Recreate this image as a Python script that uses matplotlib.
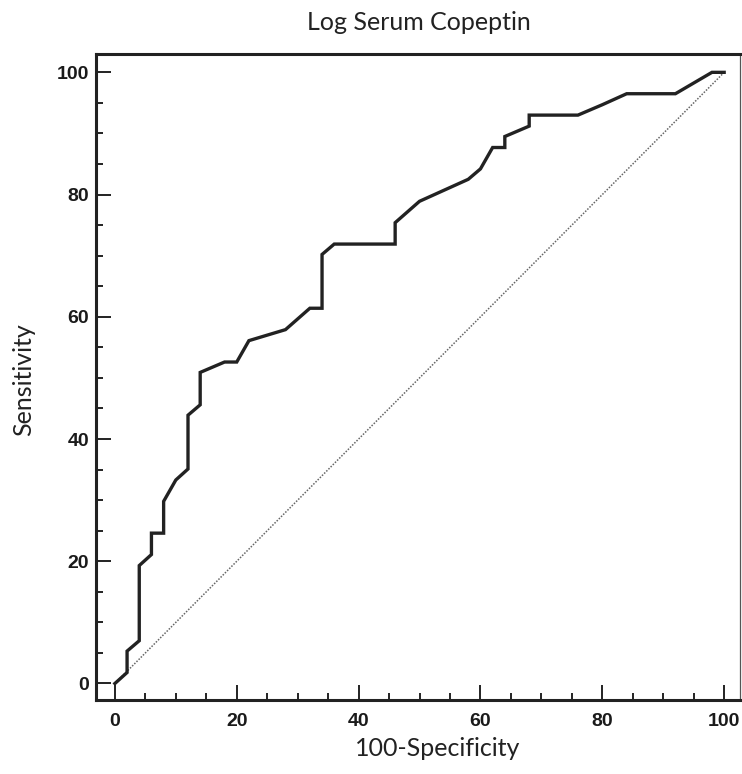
import matplotlib
matplotlib.use("Agg")
from matplotlib import pyplot as plt
from matplotlib.ticker import MultipleLocator

# ROC curve points (100-Specificity, Sensitivity)
fpr = [0, 2, 2, 4, 4, 6, 6, 8, 8, 10, 12, 12, 14, 14, 18, 20, 22, 28, 32, 34,
       34, 36, 46, 46, 50, 54, 58, 60, 62, 64, 64, 68, 68, 76, 80, 84, 92, 98, 100]
tpr = [0, 1.8, 5.3, 7.0, 19.3, 21.1, 24.6, 24.6, 29.8, 33.3, 35.1, 43.9, 45.6, 50.9,
       52.6, 52.6, 56.1, 57.9, 61.4, 61.4, 70.2, 71.9, 71.9, 75.4, 78.9, 80.7, 82.5,
       84.2, 87.7, 87.7, 89.5, 91.2, 93.0, 93.0, 94.7, 96.5, 96.5, 100, 100]
ref_line = [0, 100]
ticks = [0, 20, 40, 60, 80, 100]

W, H = 742, 774
fig = plt.figure(figsize=(W / 100, H / 100), dpi=100)
ax = fig.add_axes([96 / W, 1 - 700 / H, (740 - 96) / W, (700 - 54) / H])

ax.plot(ref_line, ref_line, color="#666666", lw=1.1, ls=(0, (1, 1)), zorder=2)
ax.plot(fpr, tpr, color="#222222", lw=2.4, solid_joinstyle="miter", zorder=3)

ax.set_xlim(-3.1, 102.6)
ax.set_ylim(-2.7, 103.0)
ax.set_xticks(ticks)
ax.set_yticks(ticks)
ax.xaxis.set_minor_locator(MultipleLocator(5))
ax.yaxis.set_minor_locator(MultipleLocator(5))
ax.tick_params(which="major", direction="in", length=11, width=1.4, color="#222222")
ax.tick_params(which="minor", direction="in", length=5, width=1.4, color="#222222")
ax.tick_params(axis="x", which="major", pad=9)
ax.tick_params(axis="y", which="major", pad=5)

for lab in ax.get_xticklabels() + ax.get_yticklabels():
    lab.set_fontfamily("Liberation Sans")
    lab.set_fontweight("bold")
    lab.set_fontsize(14)
    lab.set_color("#1a1a1a")

for side in ["left", "bottom", "top"]:
    ax.spines[side].set_linewidth(2.2)
    ax.spines[side].set_color("#222222")
ax.spines["right"].set_linewidth(0.9)
ax.spines["right"].set_color("#555555")

fig.text(419 / W, 1 - 22 / H, "Log Serum Copeptin", ha="center", va="center",
         fontsize=18, family="Lato", color="#222222")
fig.text(438 / W, 1 - 748 / H, "100-Specificity", ha="center", va="center",
         fontsize=18, family="Lato", color="#222222")
fig.text(24 / W, 1 - 380 / H, "Sensitivity", ha="center", va="center",
         rotation=90, fontsize=18, family="Lato", color="#222222")

fig.savefig("out.png", dpi=100)
